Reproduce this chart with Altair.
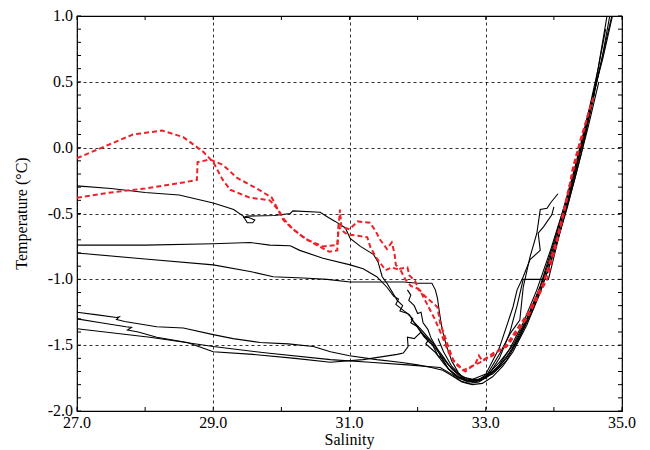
import altair as alt
import pandas as pd

# ---- black CTD profiles (salinity, temperature) ----
k1_sal = [27.0, 27.5, 28.0, 28.5, 29.0, 29.3, 29.44, 29.5, 29.58, 29.61, 29.52, 29.44, 29.5, 29.9, 30.13,
          30.17, 30.57, 30.69, 30.79, 30.94, 31.01, 31.16, 31.35, 31.42, 31.48, 31.55, 31.70, 31.78, 31.74,
          31.85, 31.93, 31.9, 32.0, 32.08, 32.15, 32.22, 32.3, 32.36, 32.45, 32.6, 32.75, 32.9, 33.05, 33.2,
          33.4, 33.6, 33.8, 34.0, 34.2, 34.4, 34.55, 34.7, 34.82]
k1_tem = [-0.29, -0.31, -0.34, -0.36, -0.42, -0.47, -0.52, -0.57, -0.57, -0.55, -0.53, -0.53, -0.52, -0.515,
          -0.50, -0.48, -0.49, -0.53, -0.56, -0.61, -0.69, -0.75, -0.81, -0.87, -0.98, -1.03, -1.16, -1.2,
          -1.24, -1.26, -1.3, -1.33, -1.36, -1.42, -1.47, -1.5, -1.58, -1.6, -1.68, -1.75, -1.78, -1.76,
          -1.71, -1.63, -1.50, -1.30, -1.06, -0.76, -0.40, 0.0, 0.32, 0.66, 1.0]

k2_sal = [27.0, 28.0, 29.0, 29.54, 29.83, 30.13, 30.27, 30.61, 31.01, 31.2, 31.4, 31.55, 31.65, 31.72,
          31.68, 31.8, 31.88, 31.95, 32.1, 32.16, 32.12, 32.25, 32.4, 32.55, 32.7, 32.85, 33.0, 33.2,
          33.4, 33.6, 33.8, 34.0, 34.2, 34.4, 34.6, 34.78]
k2_tem = [-0.74, -0.74, -0.73, -0.72, -0.74, -0.745, -0.78, -0.84, -0.89, -0.92, -0.98, -1.06, -1.13,
          -1.15, -1.19, -1.24, -1.27, -1.33, -1.44, -1.46, -1.49, -1.55, -1.65, -1.73, -1.77, -1.77, -1.74,
          -1.66, -1.52, -1.31, -1.05, -0.72, -0.36, 0.02, 0.45, 1.0]

k3_sal = [27.0, 28.0, 29.0, 29.54, 29.88, 30.32, 30.67, 31.01, 31.3, 31.5, 31.8, 32.0, 32.21, 32.26,
          32.29, 32.32, 32.36, 32.42, 32.5, 32.6, 32.72, 32.85, 33.0, 33.15, 33.3, 33.5, 33.7, 33.9, 34.1,
          34.3, 34.5, 34.65, 34.76]
k3_tem = [-0.80, -0.845, -0.89, -0.94, -0.98, -0.99, -1.0, -1.02, -1.02, -1.02, -1.02, -1.03, -1.03,
          -1.08, -1.14, -1.25, -1.38, -1.5, -1.62, -1.71, -1.77, -1.78, -1.75, -1.69, -1.6, -1.43, -1.2,
          -0.92, -0.57, -0.17, 0.25, 0.6, 0.9]

k4_sal = [27.0, 27.3, 27.58, 27.62, 27.58, 27.7, 28.17, 28.56, 29.0, 29.29, 29.69, 30.1, 30.47, 30.72,
          31.0, 31.4, 31.74, 32.0, 32.2, 32.37, 32.5, 32.62, 32.75, 32.9, 33.05, 33.2, 33.35, 33.55, 33.75,
          33.95, 34.15, 34.35, 34.55, 34.72, 34.86]
k4_tem = [-1.25, -1.27, -1.29, -1.285, -1.305, -1.32, -1.36, -1.37, -1.42, -1.45, -1.48, -1.49, -1.51,
          -1.55, -1.58, -1.61, -1.63, -1.65, -1.67, -1.69, -1.73, -1.77, -1.79, -1.78, -1.73, -1.65, -1.53,
          -1.33, -1.08, -0.78, -0.45, -0.08, 0.35, 0.68, 1.0]

k5_sal = [27.0, 27.35, 27.72, 27.8, 27.74, 27.9, 28.17, 28.62, 29.0, 29.58, 30.2, 30.72, 31.2, 31.7,
          31.79, 31.86, 31.85, 31.95, 32.05, 32.15, 32.3, 32.45, 32.6, 32.75, 32.9, 33.1, 33.3, 33.5, 33.7,
          33.9, 34.1, 34.3, 34.5, 34.66]
k5_tem = [-1.30, -1.33, -1.36, -1.365, -1.385, -1.40, -1.44, -1.48, -1.55, -1.57, -1.60, -1.63, -1.61,
          -1.57, -1.56, -1.51, -1.44, -1.45, -1.40, -1.45, -1.55, -1.65, -1.72, -1.76, -1.76, -1.72, -1.62,
          -1.44, -1.22, -0.95, -0.62, -0.25, 0.15, 0.5]

k6_sal = [27.0, 28.07, 29.0, 29.79, 30.72, 31.3, 31.85, 32.33, 32.5, 32.65, 32.8, 32.95, 33.1, 33.25,
          33.4, 33.6, 33.8, 34.0, 34.2, 34.4, 34.6]
k6_tem = [-1.375, -1.44, -1.51, -1.56, -1.61, -1.63, -1.65, -1.67, -1.72, -1.78, -1.80, -1.79, -1.74,
          -1.66, -1.55, -1.35, -1.10, -0.80, -0.45, -0.05, 0.42]

k7_sal = [31.85, 31.9, 31.87, 31.95, 32.0, 32.05, 32.08, 32.15, 32.2, 32.28, 32.35, 32.45, 32.6, 32.75,
          32.9, 33.05, 33.2, 33.35, 33.46, 33.55, 33.92, 34.1, 34.3, 34.5, 34.68, 34.85]
k7_tem = [-1.08, -1.12, -1.16, -1.2, -1.26, -1.25, -1.33, -1.38, -1.45, -1.52, -1.6, -1.68, -1.74, -1.77,
          -1.77, -1.72, -1.6, -1.41, -1.2, -1.0, -1.0, -0.62, -0.22, 0.2, 0.62, 1.0]

k8_sal = [31.9, 32.05, 32.2, 32.35, 32.5, 32.65, 32.8, 33.0, 33.21, 33.36, 33.5, 33.55, 33.65, 33.75,
          33.8, 33.9, 33.95, 34.06]
k8_tem = [-1.3, -1.38, -1.47, -1.57, -1.68, -1.75, -1.78, -1.74, -1.56, -1.41, -1.31, -1.06, -0.83, -0.65,
          -0.47, -0.46, -0.42, -0.35]

k9_sal = [32.3, 32.38, 32.5, 32.65, 32.8, 33.0, 33.2, 33.4, 33.46, 33.55, 33.65, 33.8, 33.77, 33.85,
          33.97, 34.0]
k9_tem = [-1.45, -1.55, -1.66, -1.74, -1.76, -1.72, -1.52, -1.21, -1.08, -0.98, -0.85, -0.78, -0.65, -0.6,
          -0.51, -0.45]

# ---- red dashed profiles ----
r1_sal = [27.0, 27.5, 27.82, 28.25, 28.56, 28.85, 29.0, 29.14, 29.25, 29.54, 29.83, 29.95, 30.05, 30.17,
          30.38, 30.61, 30.82, 30.86, 30.88, 31.0, 31.12, 31.3, 31.38, 31.45, 31.55, 31.62, 31.66, 31.68,
          31.74, 31.85, 31.88, 31.96, 32.01, 32.11, 32.18, 32.29, 32.33, 32.43, 32.52, 32.67, 32.92, 33.11,
          33.31, 33.61, 33.9, 34.09, 34.19, 34.28, 34.39, 34.58]
r1_tem = [-0.08, 0.03, 0.10, 0.13, 0.08, -0.03, -0.11, -0.245, -0.32, -0.38, -0.40, -0.47, -0.55, -0.62,
          -0.70, -0.75, -0.74, -0.47, -0.60, -0.62, -0.56, -0.57, -0.63, -0.70, -0.77, -0.72, -0.80, -0.89,
          -0.92, -0.91, -0.97, -1.01, -1.07, -1.13, -1.16, -1.21, -1.33, -1.48, -1.61, -1.69, -1.63, -1.56,
          -1.51, -1.29, -1.0, -0.63, -0.40, -0.15, 0.06, 0.385]

r2_sal = [27.0, 27.5, 28.0, 28.5, 28.76, 28.77, 28.95, 29.14, 29.35, 29.64, 29.86, 29.95, 30.03, 30.13,
          30.32, 30.52, 30.7, 30.82, 30.84, 30.87, 30.97, 31.14, 31.26, 31.31, 31.4, 31.53, 31.62, 31.75,
          31.82, 31.9, 32.0, 32.05, 32.15, 32.25, 32.35, 32.45, 32.55, 32.7, 32.85, 32.9, 32.95, 33.1,
          33.3, 33.6, 33.85, 34.05, 34.2, 34.35, 34.5, 34.56]
r2_tem = [-0.38, -0.34, -0.31, -0.27, -0.245, -0.11, -0.09, -0.13, -0.23, -0.31, -0.38, -0.47, -0.55,
          -0.60, -0.68, -0.74, -0.79, -0.78, -0.60, -0.62, -0.66, -0.67, -0.68, -0.76, -0.84, -0.93, -0.91,
          -0.93, -1.0, -1.05, -1.07, -1.10, -1.20, -1.30, -1.42, -1.55, -1.64, -1.70, -1.64, -1.58, -1.62,
          -1.58, -1.50, -1.27, -1.02, -0.68, -0.35, -0.05, 0.25, 0.35]

black_profiles = {"k1": (k1_sal, k1_tem), "k2": (k2_sal, k2_tem), "k3": (k3_sal, k3_tem),
                  "k4": (k4_sal, k4_tem), "k5": (k5_sal, k5_tem), "k6": (k6_sal, k6_tem),
                  "k7": (k7_sal, k7_tem), "k8": (k8_sal, k8_tem), "k9": (k9_sal, k9_tem)}
red_profiles = {"r1": (r1_sal, r1_tem), "r2": (r2_sal, r2_tem)}

# ---- ticks and labels ----
x_major = [27, 29, 31, 33, 35]
x_labels = ["27.0", "29.0", "31.0", "33.0", "35.0"]
y_major = [-2.0, -1.5, -1.0, -0.5, 0.0, 0.5, 1.0]
y_labels = ["-2.0", "-1.5", "-1.0", "-0.5", "0.0", "0.5", "1.0"]
x_minor = [27, 28, 29, 30, 31, 32, 33, 34, 35]
y_minor = [round(-2.0 + 0.1 * i, 1) for i in range(31)]
x_title = "Salinity"
y_title = "Temperature (\u00b0C)"


def to_df(profiles):
    rows = []
    for name, (s, t) in profiles.items():
        for i, (a, b) in enumerate(zip(s, t)):
            rows.append({"profile": name, "idx": i, "sal": a, "tem": b})
    return pd.DataFrame(rows)


black_df = to_df(black_profiles)
red_df = to_df(red_profiles)

W, H = 545, 395
FONT = "Liberation Serif"

xs = alt.Scale(domain=[27, 35], nice=False, zero=False)
ys = alt.Scale(domain=[-2, 1], nice=False, zero=False)

xaxis = alt.Axis(values=x_major, grid=True, gridDash=[3, 3], gridColor="#000000", gridOpacity=0.8,
                 gridWidth=1, ticks=False, domain=False, labels=False, title=None)
yaxis = alt.Axis(values=y_major, grid=True, gridDash=[3, 3], gridColor="#000000", gridOpacity=0.8,
                 gridWidth=1, ticks=False, domain=False, labels=False, title=None)

black = alt.Chart(black_df).mark_line(color="black", strokeWidth=1.1, clip=True).encode(
    x=alt.X("sal:Q", scale=xs, axis=xaxis),
    y=alt.Y("tem:Q", scale=ys, axis=yaxis),
    detail="profile:N",
    order="idx:Q",
)

red = alt.Chart(red_df).mark_line(color="#ec2228", strokeWidth=2, strokeDash=[5, 3], clip=True).encode(
    x=alt.X("sal:Q", scale=xs),
    y=alt.Y("tem:Q", scale=ys),
    detail="profile:N",
    order="idx:Q",
)

yt_df = pd.DataFrame({"v": y_minor})
xt_df = pd.DataFrame({"v": x_minor})

yt_left = alt.Chart(yt_df).mark_rule(color="black", strokeWidth=1).encode(
    y=alt.Y("v:Q", scale=ys), x=alt.value(0), x2=alt.value(4))
yt_right = alt.Chart(yt_df).mark_rule(color="black", strokeWidth=1).encode(
    y=alt.Y("v:Q", scale=ys), x=alt.value(W - 4), x2=alt.value(W))
xt_bot = alt.Chart(xt_df).mark_rule(color="black", strokeWidth=1).encode(
    x=alt.X("v:Q", scale=xs), y=alt.value(H - 4), y2=alt.value(H))
xt_top = alt.Chart(xt_df).mark_rule(color="black", strokeWidth=1).encode(
    x=alt.X("v:Q", scale=xs), y=alt.value(0), y2=alt.value(4))

xl_df = pd.DataFrame({"v": x_major, "t": x_labels})
yl_df = pd.DataFrame({"v": y_major, "t": y_labels})

x_lab = alt.Chart(xl_df).mark_text(font=FONT, fontSize=16, color="black", baseline="alphabetic",
                                   align="center").encode(
    x=alt.X("v:Q", scale=xs), y=alt.value(H + 17), text="t:N")
y_lab = alt.Chart(yl_df).mark_text(font=FONT, fontSize=16, color="black", baseline="middle",
                                   align="right").encode(
    y=alt.Y("v:Q", scale=ys), x=alt.value(-4), text="t:N")

x_tit = alt.Chart(pd.DataFrame({"t": [x_title]})).mark_text(
    font=FONT, fontSize=16, color="black", baseline="alphabetic", align="center").encode(
    x=alt.value(W / 2), y=alt.value(H + 34), text="t:N")
y_tit = alt.Chart(pd.DataFrame({"t": [y_title]})).mark_text(
    font=FONT, fontSize=16, color="black", baseline="middle", align="center", angle=270).encode(
    x=alt.value(-55), y=alt.value(H / 2), text="t:N")

chart = alt.layer(black, red, yt_left, yt_right, xt_bot, xt_top, x_lab, y_lab, x_tit, y_tit).properties(
    width=W, height=H,
    autosize=alt.AutoSizeParams(type="none"),
    padding={"left": 77, "top": 16, "right": 28, "bottom": 39},
    background="white",
).configure_view(stroke="black", strokeWidth=1.2)

chart.save("out.html", embed_options={"renderer": "svg", "actions": False})
